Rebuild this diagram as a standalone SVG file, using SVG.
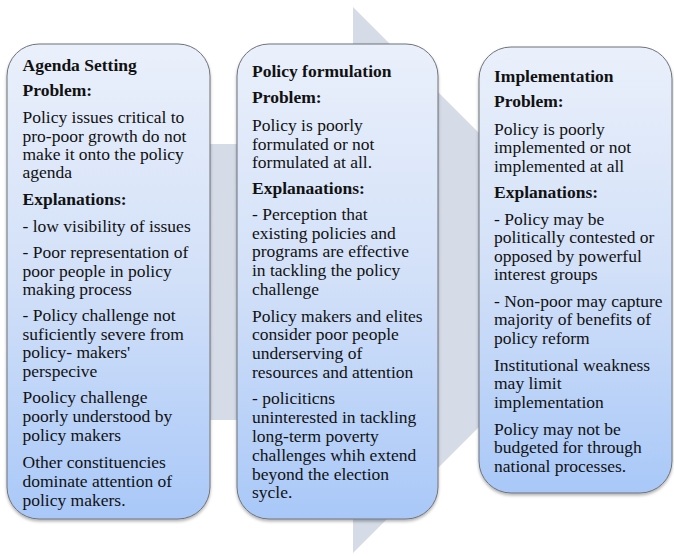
<svg xmlns="http://www.w3.org/2000/svg" width="674" height="556" viewBox="0 0 674 556" font-family="'Liberation Serif', Tinos, 'DejaVu Serif', serif">
<style>
text{font-family:'Liberation Serif',Tinos,'DejaVu Serif',serif;font-size:17.5px;fill:#111}
.h{font-weight:bold}
.box{fill:url(#g);stroke:#6f7378;stroke-width:1;filter:url(#sh)}
</style>
<defs>
<linearGradient id="g" x1="0" y1="0" x2="0" y2="1">
<stop offset="0" stop-color="#eaf0fb"/>
<stop offset="0.5" stop-color="#d2e0f8"/>
<stop offset="1" stop-color="#a9c8f8"/>
</linearGradient>
<filter id="sh" x="-10%" y="-10%" width="120%" height="120%">
<feDropShadow dx="0" dy="2" stdDeviation="1.5" flood-color="#000" flood-opacity="0.3"/>
</filter>
</defs>
<g id="connectors">
<polygon points="100,144 353,144 353,7 626,280 353,553 353,420 100,420" fill="#d5dce8"/>
</g>
<g id="agenda">
<rect class="box" x="7" y="44" width="203" height="475" rx="32" ry="32"/>
<text x="22.5" y="71" class="h">Agenda Setting</text>
<text x="22.5" y="96" class="h">Problem:</text>
<text x="22.5" y="123">Policy issues critical to</text>
<text x="22.5" y="141.5">pro-poor growth do not</text>
<text x="22.5" y="160">make it onto the policy</text>
<text x="22.5" y="178">agenda</text>
<text x="22.5" y="205" class="h">Explanations:</text>
<text x="22.5" y="231.5">- low visibility of issues</text>
<text x="22.5" y="258">- Poor representation of</text>
<text x="22.5" y="276.5">poor people in policy</text>
<text x="22.5" y="294.5">making process</text>
<text x="22.5" y="321">- Policy challenge not</text>
<text x="22.5" y="339.5">suficiently severe from</text>
<text x="22.5" y="358">policy- makers'</text>
<text x="22.5" y="377">perspecive</text>
<text x="22.5" y="403">Poolicy challenge</text>
<text x="22.5" y="422">poorly understood by</text>
<text x="22.5" y="441">policy makers</text>
<text x="22.5" y="468">Other constituencies</text>
<text x="22.5" y="487">dominate attention of</text>
<text x="22.5" y="506">policy makers.</text>
</g>
<g id="formulation">
<rect class="box" x="237" y="44" width="201" height="475" rx="32" ry="32"/>
<text x="252" y="77" class="h">Policy formulation</text>
<text x="252" y="103" class="h">Problem:</text>
<text x="252" y="131">Policy is poorly</text>
<text x="252" y="149.5">formulated or not</text>
<text x="252" y="168">formulated at all.</text>
<text x="252" y="194" class="h">Explanaations:</text>
<text x="252" y="220">- Perception that</text>
<text x="252" y="238.5">existing policies and</text>
<text x="252" y="257">programs are effective</text>
<text x="252" y="275.5">in tackling the policy</text>
<text x="252" y="294.5">challenge</text>
<text x="252" y="322">Policy makers and elites</text>
<text x="252" y="340">consider poor people</text>
<text x="252" y="359">underserving of</text>
<text x="252" y="378">resources and attention</text>
<text x="252" y="404">- policiticns</text>
<text x="252" y="423">uninterested in tackling</text>
<text x="252" y="442">long-term poverty</text>
<text x="252" y="461">challenges whih extend</text>
<text x="252" y="480">beyond the election</text>
<text x="252" y="498">sycle.</text>
</g>
<g id="implementation">
<rect class="box" x="479" y="47" width="193" height="446" rx="32" ry="32"/>
<text x="494" y="82" class="h">Implementation</text>
<text x="494" y="107" class="h">Problem:</text>
<text x="494" y="134.5">Policy is poorly</text>
<text x="494" y="153">implemented or not</text>
<text x="494" y="171.5">implemented at all</text>
<text x="494" y="198" class="h">Explanations:</text>
<text x="494" y="224.5">- Policy may be</text>
<text x="494" y="242.5">politically contested or</text>
<text x="494" y="261.5">opposed by powerful</text>
<text x="494" y="280">interest groups</text>
<text x="494" y="307">- Non-poor may capture</text>
<text x="494" y="325">majority of benefits of</text>
<text x="494" y="344">policy reform</text>
<text x="494" y="371">Institutional weakness</text>
<text x="494" y="389">may limit</text>
<text x="494" y="408">implementation</text>
<text x="494" y="435">Policy may not be</text>
<text x="494" y="453">budgeted for through</text>
<text x="494" y="472">national processes.</text>
</g>
</svg>
